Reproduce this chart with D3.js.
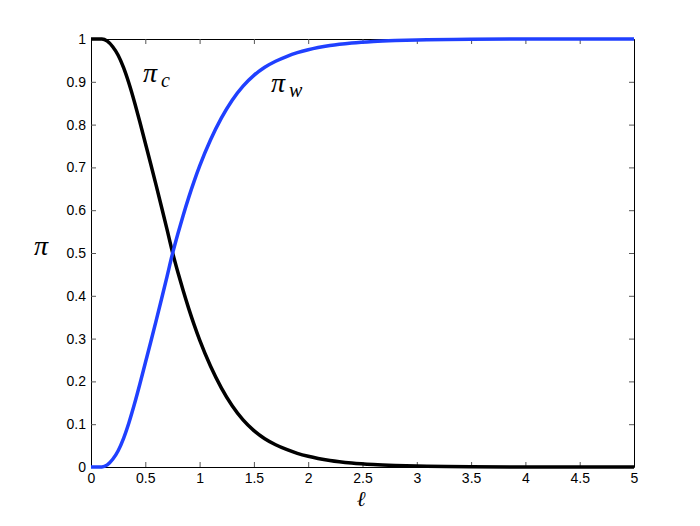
<!DOCTYPE html>
<html><head><meta charset="utf-8">
<script src="https://cdn.jsdelivr.net/npm/d3@7"></script>
<style>
html,body{margin:0;padding:0;background:#fff;}
svg{display:block;}
.tick text{font-family:"Liberation Sans",Arial,Helvetica,sans-serif;font-size:14px;fill:#000;}
</style></head>
<body>
<script>
// data
const ell  = [0,0.05,0.10,0.15,0.20,0.25,0.30,0.35,0.40,0.45,0.50,0.55,0.60,0.65,0.70,0.75,0.80,0.85,0.90,0.95,1.00,1.10,1.20,1.30,1.40,1.50,1.60,1.70,1.80,1.90,2.00,2.20,2.40,2.60,2.80,3.00,3.50,4.00,4.50,5.00];
const piC  = [1,1,1,0.995,0.982,0.962,0.933,0.896,0.853,0.806,0.757,0.708,0.658,0.607,0.555,0.502,0.455,0.411,0.370,0.332,0.297,0.236,0.185,0.143,0.110,0.085,0.066,0.052,0.041,0.032,0.025,0.0152,0.0093,0.0057,0.0035,0.0021,0.0006,0.0002,0.0001,0];
const piW  = [0,0,0,0.005,0.018,0.038,0.067,0.104,0.147,0.194,0.243,0.292,0.342,0.393,0.445,0.498,0.545,0.589,0.630,0.668,0.703,0.764,0.815,0.857,0.890,0.915,0.934,0.948,0.959,0.968,0.975,0.9848,0.9907,0.9943,0.9965,0.9979,0.9994,0.9998,0.9999,1];
const xTicks = [0,0.5,1,1.5,2,2.5,3,3.5,4,4.5,5];
const xTickLabels = ["0","0.5","1","1.5","2","2.5","3","3.5","4","4.5","5"];
const yTicks = [0,0.1,0.2,0.3,0.4,0.5,0.6,0.7,0.8,0.9,1];
const yTickLabels = ["0","0.1","0.2","0.3","0.4","0.5","0.6","0.7","0.8","0.9","1"];

const W=700,H=526;
const L=91,R=634,T=39,B=467;
const svg=d3.select("body").append("svg").attr("width",W).attr("height",H);
const x=d3.scaleLinear().domain([0,5]).range([L,R]);
const y=d3.scaleLinear().domain([0,1]).range([B,T]);

// axes (MATLAB box style, ticks inward)
const axColor="#000";
const gx=svg.append("g").attr("transform",`translate(0,${B})`)
  .call(d3.axisBottom(x).tickValues(xTicks).tickFormat((d,i)=>xTickLabels[i]).tickSizeInner(-5).tickSizeOuter(0).tickPadding(6));
const gxt=svg.append("g").attr("transform",`translate(0,${T})`)
  .call(d3.axisTop(x).tickValues(xTicks).tickFormat("").tickSizeInner(-5).tickSizeOuter(0));
const gy=svg.append("g").attr("transform",`translate(${L},0)`)
  .call(d3.axisLeft(y).tickValues(yTicks).tickFormat((d,i)=>yTickLabels[i]).tickSizeInner(-5).tickSizeOuter(0).tickPadding(5));
const gyr=svg.append("g").attr("transform",`translate(${R},0)`)
  .call(d3.axisRight(y).tickValues(yTicks).tickFormat("").tickSizeInner(-5).tickSizeOuter(0));
[gx,gxt,gy,gyr].forEach(g=>{
  g.select(".domain").attr("stroke",axColor).attr("stroke-width",1);
  g.selectAll(".tick line").attr("stroke","#555").attr("stroke-width",1);
});

const line=(vals)=>d3.line().x((d,i)=>x(ell[i])).y(d=>y(d)).curve(d3.curveMonotoneX)(vals);
svg.append("path").attr("d",line(piC)).attr("fill","none").attr("stroke","#000").attr("stroke-width",3.5);
svg.append("path").attr("d",line(piW)).attr("fill","none").attr("stroke","#2040ff").attr("stroke-width",3.5);

// labels
const serif='"Liberation Serif","DejaVu Serif",serif';
function piLabel(px,py,sub){
  const t=svg.append("text").attr("x",px).attr("y",py).attr("font-family",serif).attr("font-style","italic").attr("font-size",28).attr("fill","#000");
  t.append("tspan").text("π");
  t.append("tspan").attr("dx",4).attr("dy",5).attr("font-size",20).text(sub);
}
piLabel(143,82,"c");
piLabel(271,92,"w");
svg.append("text").attr("x",34).attr("y",255).attr("font-family",serif).attr("font-style","italic").attr("font-size",28).text("π");
svg.append("text").attr("x",361).attr("y",506).attr("text-anchor","middle").attr("font-family",serif).attr("font-style","italic").attr("font-size",21).text("ℓ");
</script>
</body></html>
